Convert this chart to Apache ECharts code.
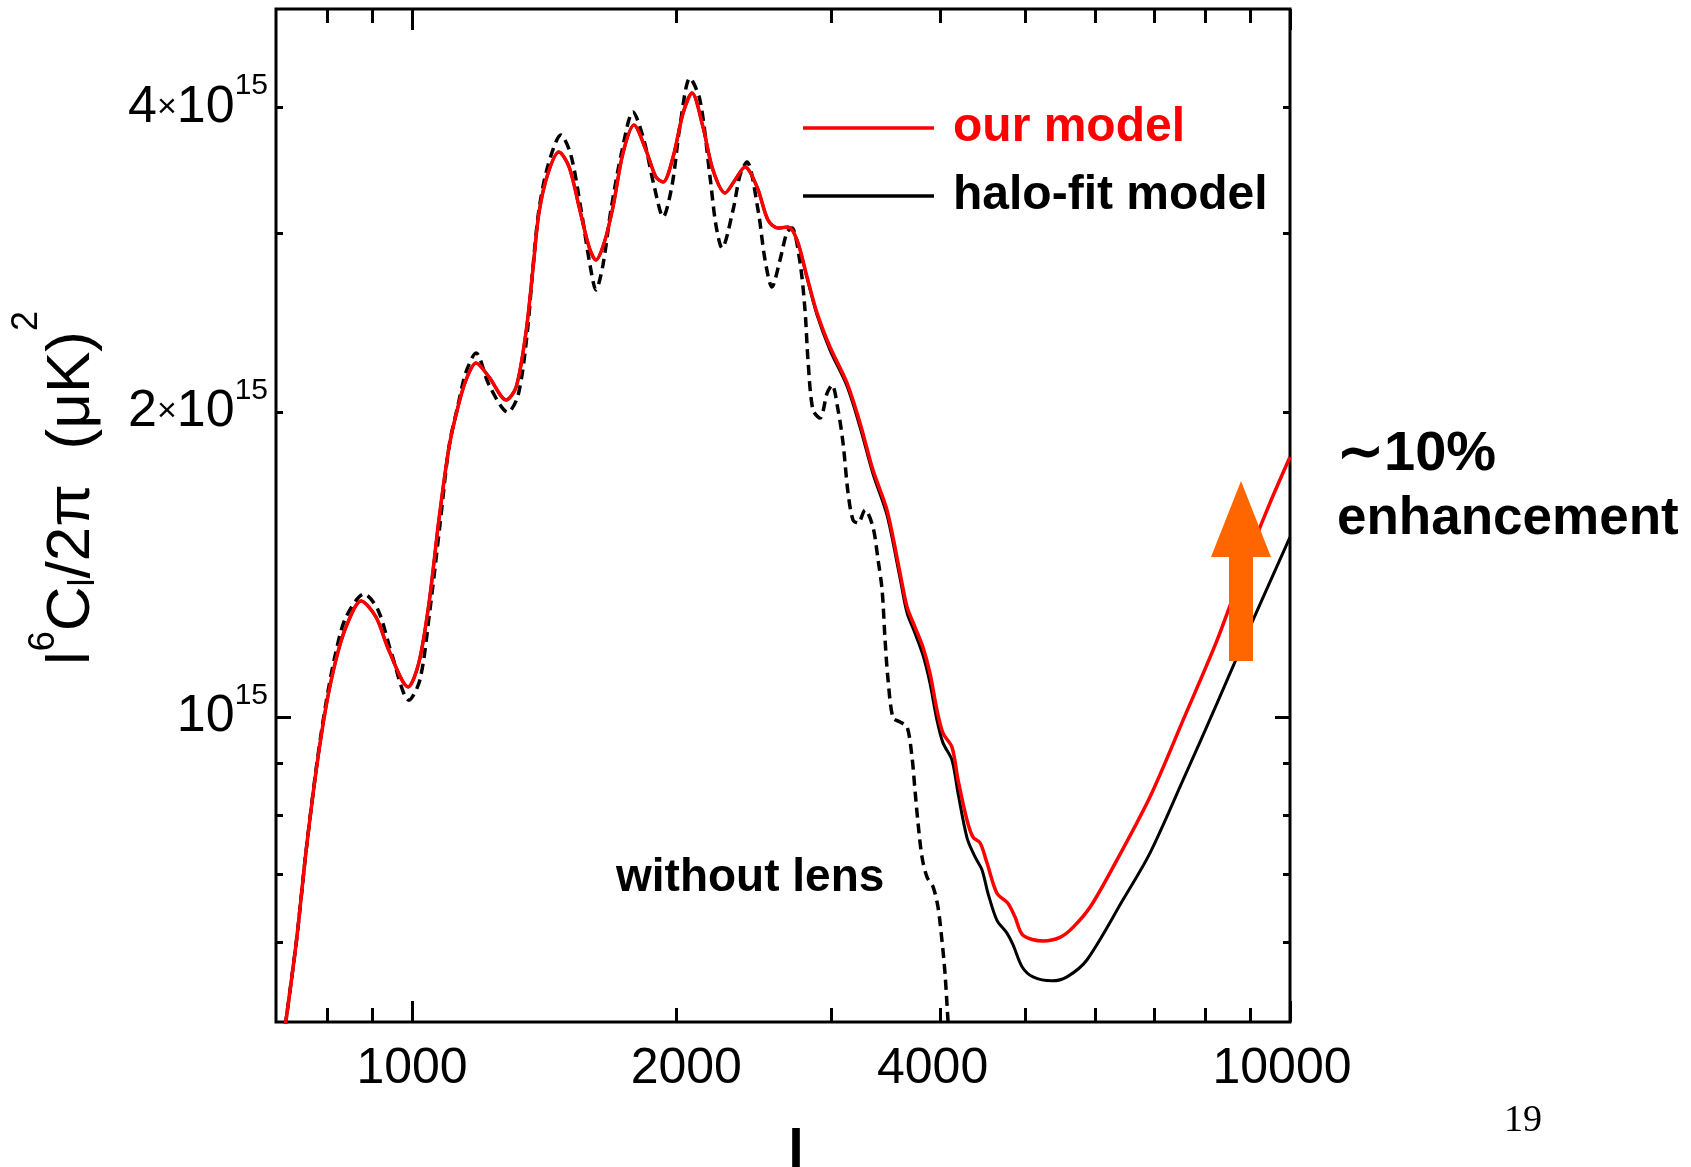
<!DOCTYPE html>
<html>
<head>
<meta charset="utf-8">
<title>Lensed CMB spectrum</title>
<script src="https://cdn.jsdelivr.net/npm/echarts@6/dist/echarts.min.js"></script>
<style>
  html, body { margin: 0; padding: 0; background: #ffffff; }
  #chart { width: 1691px; height: 1167px; }
</style>
</head>
<body>
<div id="chart"></div>
<script>
// Multipoles and l^6 C_l / 2pi values, in units of 1e15 (muK)^2.
const UNIT = 1e15;

const ellOurModel = [709, 738, 757, 778, 798, 819, 841, 875, 910, 941,
  990, 1018, 1046, 1073, 1102, 1128, 1152, 1183, 1224, 1280,
  1314, 1348, 1374, 1395, 1429, 1470, 1510, 1550, 1591, 1620,
  1655, 1694, 1739, 1790, 1847, 1896, 1932, 1983, 2036, 2084,
  2145, 2202, 2273, 2333, 2395, 2472, 2544, 2612, 2681, 2745,
  2818, 2893, 2993, 3129, 3238, 3350, 3475, 3596, 3663, 3740,
  3819, 3890, 3962, 4025, 4121, 4187, 4287, 4355, 4437, 4517,
  4637, 4772, 4861, 4964, 5231, 5470, 5660, 5918, 6237, 6926,
  7555, 8260, 8843, 9489, 10000];
const clOurModel = [0.461, 0.598, 0.734, 0.887, 1.023, 1.138, 1.227, 1.302, 1.255, 1.164,
  1.071, 1.131, 1.299, 1.565, 1.847, 2.023, 2.151, 2.236, 2.166, 2.056,
  2.117, 2.394, 2.781, 3.145, 3.444, 3.612, 3.491, 3.188, 2.911, 2.826,
  2.937, 3.188, 3.604, 3.841, 3.628, 3.413, 3.374, 3.571, 3.947, 4.130,
  3.823, 3.467, 3.291, 3.390, 3.491, 3.336, 3.094, 3.039, 3.046, 2.957,
  2.719, 2.505, 2.319, 2.137, 1.951, 1.753, 1.601, 1.388, 1.284, 1.227,
  1.172, 1.105, 1.016, 0.964, 0.934, 0.867, 0.791, 0.761, 0.751, 0.718,
  0.670, 0.655, 0.635, 0.609, 0.601, 0.606, 0.620, 0.649, 0.702, 0.834,
  0.993, 1.191, 1.397, 1.627, 1.806];

const ellHaloFit = [709, 738, 757, 778, 798, 819, 841, 875, 910, 941,
  990, 1018, 1046, 1073, 1102, 1128, 1152, 1183, 1224, 1280,
  1314, 1348, 1374, 1395, 1429, 1470, 1510, 1550, 1591, 1620,
  1655, 1694, 1739, 1790, 1847, 1896, 1932, 1983, 2036, 2084,
  2145, 2202, 2273, 2333, 2395, 2472, 2544, 2612, 2681, 2745,
  2818, 2893, 2993, 3129, 3238, 3350, 3475, 3596, 3663, 3740,
  3819, 3890, 3962, 4025, 4121, 4187, 4287, 4377, 4460, 4529,
  4637, 4760, 4836, 4952, 5097, 5356, 5572, 5873, 6453, 6926,
  7555, 8260, 9077, 10000];
const clHaloFit = [0.461, 0.598, 0.734, 0.887, 1.023, 1.138, 1.227, 1.302, 1.255, 1.164,
  1.071, 1.131, 1.299, 1.565, 1.847, 2.023, 2.151, 2.236, 2.166, 2.056,
  2.117, 2.394, 2.781, 3.145, 3.444, 3.612, 3.491, 3.188, 2.911, 2.826,
  2.937, 3.188, 3.604, 3.841, 3.628, 3.413, 3.374, 3.571, 3.947, 4.130,
  3.823, 3.467, 3.291, 3.390, 3.491, 3.336, 3.094, 3.039, 3.046, 2.957,
  2.713, 2.494, 2.303, 2.122, 1.933, 1.738, 1.583, 1.372, 1.267, 1.210,
  1.151, 1.080, 0.993, 0.943, 0.907, 0.841, 0.760, 0.728, 0.706, 0.670,
  0.630, 0.612, 0.596, 0.567, 0.554, 0.549, 0.554, 0.576, 0.660, 0.734,
  0.867, 1.032, 1.247, 1.505];

const ellNoLens = [709, 738, 757, 778, 798, 819, 841, 882, 915, 949,
  992, 1021, 1048, 1076, 1102, 1128, 1152, 1183, 1224, 1286,
  1321, 1352, 1374, 1395, 1429, 1478, 1517, 1558, 1595, 1620,
  1650, 1685, 1735, 1785, 1837, 1886, 1932, 1978, 2020, 2073,
  2128, 2185, 2219, 2255, 2321, 2364, 2407, 2478, 2524, 2570,
  2625, 2674, 2709, 2766, 2803, 2825, 2862, 2916, 2970, 3009,
  3057, 3097, 3138, 3179, 3221, 3281, 3350, 3395, 3431, 3458,
  3485, 3531, 3596, 3663, 3711, 3740, 3770, 3809, 3860, 3921,
  3973, 4014, 4046, 4078, 4100];
const clNoLens = [0.461, 0.598, 0.734, 0.891, 1.032, 1.159, 1.255, 1.323, 1.275, 1.151,
  1.039, 1.088, 1.275, 1.547, 1.850, 2.030, 2.190, 2.287, 2.127, 2.000,
  2.079, 2.383, 2.794, 3.167, 3.507, 3.754, 3.587, 3.167, 2.794, 2.640,
  2.794, 3.167, 3.628, 3.956, 3.712, 3.351, 3.117, 3.351, 3.841, 4.273,
  4.065, 3.413, 3.060, 2.904, 3.167, 3.428, 3.531, 3.167, 2.826, 2.658,
  2.826, 3.011, 3.039, 2.813, 2.522, 2.251, 2.009, 1.973, 2.088, 2.127,
  2.009, 1.864, 1.664, 1.565, 1.554, 1.601, 1.540, 1.429, 1.335, 1.191,
  1.088, 0.998, 0.989, 0.978, 0.913, 0.847, 0.786, 0.728, 0.695, 0.680,
  0.649, 0.602, 0.559, 0.502, 0.469];

// Axis ranges and tick positions
const ellRange = [700, 10000];
const clRange = [5e14, 5e15];
const xMajorTicks = [1000, 10000];
const xMinorTicks = [800, 900, 2000, 3000, 4000, 5000, 6000, 7000, 8000, 9000];
const xTickLabels = [1000, 2000, 4000, 10000];
const yMajorTicks = [1e15];
const yMinorTicks = [6e14, 7e14, 8e14, 9e14, 2e15, 3e15, 4e15];
const yTickLabels = [1e15, 2e15, 4e15];

const FONT = "'Liberation Sans', Arial, Helvetica, sans-serif";
const lg = Math.log10;
const pairs = (ls, vs) => ls.map((l, i) => [l, vs[i] * UNIT]);

// Small horizontal nudges of individual l labels (rich style per label).
const xLabelStyle = { 2000: 'right', 4000: 'left', 10000: 'left' };

// Tick-only axes run in log10 space over the same range as the log data axes,
// so they line up exactly and can carry hand-picked decade ticks.
function xTicks(position, values, length, withLabels) {
  return {
    type: 'value', position, gridIndex: 0,
    min: lg(ellRange[0]), max: lg(ellRange[1]),
    axisLine: { show: false }, splitLine: { show: false },
    axisTick: { show: true, inside: true, length, customValues: values.map(lg),
                lineStyle: { color: '#000', width: 3 } },
    axisLabel: withLabels ? {
      show: true, customValues: xTickLabels.map(lg), margin: 22,
      color: '#000', fontFamily: FONT, fontSize: 50,
      formatter: v => {
        const n = Math.round(Math.pow(10, v));
        const st = xLabelStyle[n];
        return st ? `{${st}|${n}}` : String(n);
      },
      rich: {
        right: { fontFamily: FONT, fontSize: 50, color: '#000', padding: [0, 0, 0, 20] },
        left: { fontFamily: FONT, fontSize: 50, color: '#000', padding: [0, 16, 0, 0] }
      }
    } : { show: false }
  };
}
function yTicks(position, values, length, withLabels) {
  return {
    type: 'value', position, gridIndex: 0,
    min: lg(clRange[0]), max: lg(clRange[1]),
    axisLine: { show: false }, splitLine: { show: false },
    axisTick: { show: true, inside: true, length, customValues: values.map(lg),
                lineStyle: { color: '#000', width: 3 } },
    axisLabel: withLabels ? {
      show: true, customValues: yTickLabels.map(lg), margin: 8,
      color: '#000', fontFamily: FONT,
      formatter: v => {
        const e = Math.floor(v + 1e-9);
        const m = Math.round(Math.pow(10, v - e));
        return m === 1 ? `{m|10}{s|${e}}` : `{m|${m}}{x|×}{m|10}{s|${e}}`;
      },
      rich: {
        m: { fontFamily: FONT, fontSize: 52, lineHeight: 52, verticalAlign: 'middle', color: '#000' },
        x: { fontFamily: FONT, fontSize: 34, lineHeight: 34, verticalAlign: 'middle', color: '#000' },
        // superscript exponent: bottom padding lifts it above the mantissa
        s: { fontFamily: FONT, fontSize: 30, lineHeight: 30, verticalAlign: 'middle', padding: [0, 0, 42, 0], color: '#000' }
      }
    } : { show: false }
  };
}

const hiddenAxis = (range) => ({
  type: 'log', logBase: 10, gridIndex: 0, min: range[0], max: range[1],
  axisLine: { show: false }, axisTick: { show: false },
  axisLabel: { show: false }, splitLine: { show: false }
});

const chart = echarts.init(document.getElementById('chart'), null, { renderer: 'canvas' });

chart.setOption({
  animation: false,
  backgroundColor: '#ffffff',
  grid: {
    left: 276, top: 9, width: 1014, height: 1013,
    show: true, borderColor: '#000', borderWidth: 3, backgroundColor: 'transparent'
  },
  xAxis: [
    hiddenAxis(ellRange),
    xTicks('bottom', xMajorTicks, 21, true),
    xTicks('bottom', xMinorTicks, 14, false),
    xTicks('top', xMajorTicks, 21, false),
    xTicks('top', xMinorTicks, 14, false)
  ],
  yAxis: [
    hiddenAxis(clRange),
    yTicks('left', yMajorTicks, 15, true),
    yTicks('left', yMinorTicks, 7, false),
    yTicks('right', yMajorTicks, 15, false),
    yTicks('right', yMinorTicks, 7, false)
  ],
  legend: {
    data: [
      { name: 'our model', textStyle: { color: '#ff0000' } },
      { name: 'halo-fit model', textStyle: { color: '#000000' } }
    ],
    orient: 'vertical', left: 803, top: 104, padding: 0,
    icon: 'rect', itemWidth: 131, itemHeight: 3.5, itemGap: 20,
    selectedMode: false,
    textStyle: { fontFamily: FONT, fontSize: 48, fontWeight: 'bold', lineHeight: 48, padding: [0, 0, 0, 14] }
  },
  series: [
    {
      name: 'without lens', type: 'line', xAxisIndex: 0, yAxisIndex: 0, z: 2,
      data: pairs(ellNoLens, clNoLens), symbol: 'none', smooth: 0.3,
      lineStyle: { color: '#000', width: 3.5, type: [10, 6] }
    },
    {
      name: 'halo-fit model', type: 'line', xAxisIndex: 0, yAxisIndex: 0, z: 3,
      data: pairs(ellHaloFit, clHaloFit), symbol: 'none', smooth: 0.3,
      lineStyle: { color: '#000', width: 3 }, itemStyle: { color: '#000' }
    },
    {
      name: 'our model', type: 'line', xAxisIndex: 0, yAxisIndex: 0, z: 4,
      data: pairs(ellOurModel, clOurModel), symbol: 'none', smooth: 0.3,
      lineStyle: { color: '#ff0000', width: 3.5 }, itemStyle: { color: '#ff0000' }
    }
  ],
  graphic: [
    {
      // vertical axis title: l^6 C_l / 2pi (muK)^2
      type: 'text', x: 72, y: 488, rotation: Math.PI / 2,
      style: {
        text: '{m|l}{s6|6}{m|C}{b|l}{m|/2π  (μK)}{s2|2}',
        align: 'center', verticalAlign: 'middle', fill: '#000',
        rich: {
          m: { fontFamily: FONT, fontSize: 62, lineHeight: 62, verticalAlign: 'middle' },
          s6: { fontFamily: FONT, fontSize: 36, lineHeight: 36, verticalAlign: 'middle', padding: [0, 0, 56, 0] },
          s2: { fontFamily: FONT, fontSize: 36, lineHeight: 36, verticalAlign: 'middle', padding: [0, 0, 90, 0] },
          b: { fontFamily: FONT, fontSize: 36, lineHeight: 36, verticalAlign: 'middle', padding: [24, 0, 0, 0] }
        }
      }
    },
    {
      type: 'text', x: 796, y: 1125,
      style: { text: 'l', fontFamily: FONT, fontSize: 56, fontWeight: 'bold', fill: '#000', align: 'center', verticalAlign: 'top' }
    },
    {
      type: 'text', x: 616, y: 878,
      style: { text: 'without lens', fontFamily: FONT, fontSize: 46, fontWeight: 'bold', fill: '#000', align: 'left', verticalAlign: 'middle' }
    },
    {
      type: 'text', x: 1337, y: 455,
      style: { text: '∼10%', fontFamily: FONT, fontSize: 56, fontWeight: 'bold', fill: '#000', align: 'left', verticalAlign: 'middle' }
    },
    {
      type: 'text', x: 1337, y: 519,
      style: { text: 'enhancement', fontFamily: FONT, fontSize: 53, fontWeight: 'bold', fill: '#000', align: 'left', verticalAlign: 'middle' }
    },
    {
      type: 'polygon', z: 10,
      shape: { points: [[1241, 481], [1271, 557], [1253, 557], [1253, 661], [1229, 661], [1229, 557], [1211, 557]] },
      style: { fill: '#ff6600' }
    },
    {
      type: 'text', x: 1504, y: 1121,
      style: { text: '19', fontFamily: "'Liberation Serif', 'Times New Roman', serif", fontSize: 38, fill: '#000', align: 'left', verticalAlign: 'middle' }
    }
  ]
});
</script>
</body>
</html>
